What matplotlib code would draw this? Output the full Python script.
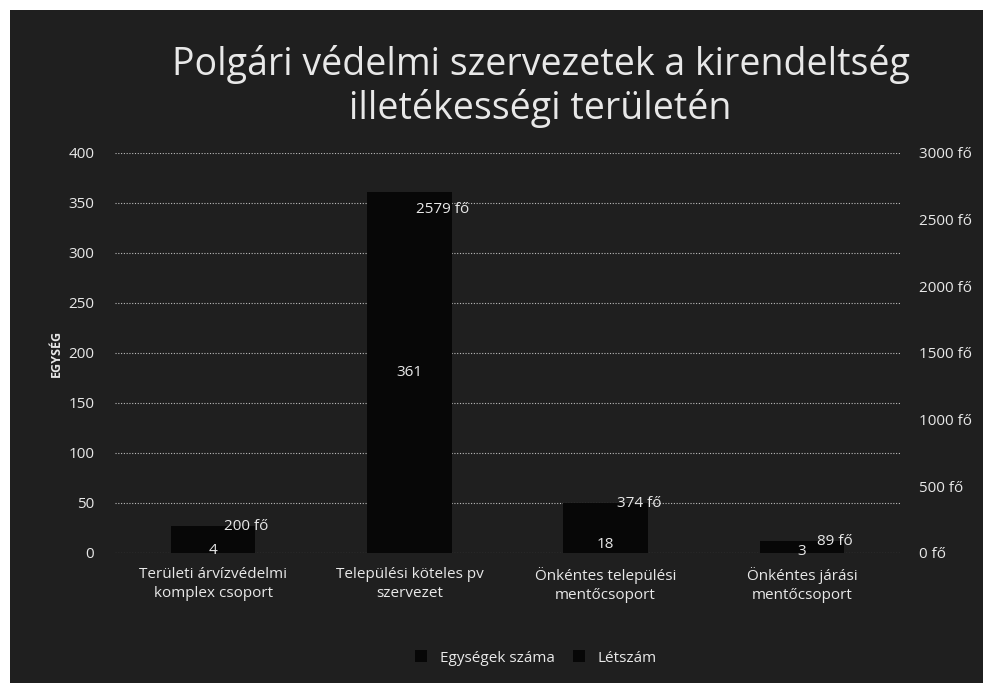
import matplotlib.pyplot as plt
from matplotlib.patches import Rectangle

categories = ["Területi árvízvédelmi\nkomplex csoport",
              "Települési köteles pv\nszervezet",
              "Önkéntes települési\nmentőcsoport",
              "Önkéntes járási\nmentőcsoport"]
egysegek = [4, 361, 18, 3]          # Egységek száma (left axis)
letszam = [200, 2579, 374, 89]      # Létszám (right axis, fő)
left_ticks = [0, 50, 100, 150, 200, 250, 300, 350, 400]
right_ticks = [0, 500, 1000, 1500, 2000, 2500, 3000]

bg = "#1f1f1f"
bar_col = "#070707"
txt = "#e8e8e8"
plt.rcParams['font.family'] = ['Open Sans', 'DejaVu Sans']

fig = plt.figure(figsize=(9.83, 6.83), dpi=100, facecolor="white")
# dark scanned chart area (thin white margin top/left)
fig.patches.append(Rectangle((10 / 983, 0), 1, 1 - 10 / 683, transform=fig.transFigure,
                             facecolor=bg, edgecolor="none", zorder=-10))

ax = fig.add_axes([115 / 983, 1 - 553 / 683, 785 / 983, 400 / 683])
ax.set_facecolor("none")
ax2 = ax.twinx()

x = list(range(len(categories)))
w = 0.43
ax.bar(x, egysegek, width=w, color=bar_col, zorder=2, label="Egységek száma")
ax2.bar(x, letszam, width=w, color=bar_col, zorder=2, label="Létszám")

ax.set_ylim(0, 400)
ax2.set_ylim(0, 3000)
ax.set_xlim(-0.5, len(categories) - 0.5)
ax.set_yticks(left_ticks)
ax2.set_yticks(right_ticks)
ax2.set_yticklabels([f"{t} fő" for t in right_ticks])
ax.set_xticks(x)
ax.set_xticklabels(categories, color=txt, fontsize=11, linespacing=1.35)

ax.grid(axis="y", color="#bdbdbd", linestyle=(0, (1, 1.5)), linewidth=0.8, zorder=0)
ax.set_axisbelow(True)
for a in (ax, ax2):
    for s in a.spines.values():
        s.set_visible(False)
    a.tick_params(length=0, colors=txt, labelsize=11)
ax.tick_params(axis="y", pad=15)
ax2.tick_params(axis="y", pad=14)
ax.tick_params(axis="x", pad=10)

ax.set_ylabel("EGYSÉG", color=txt, fontsize=9, fontweight="bold", labelpad=4)

# value labels (drawn in the top axes so the bars do not hide them)
for i, v in enumerate(egysegek):
    ax2.text(i, v / 2, str(v), transform=ax.transData, color=txt, fontsize=11,
             ha="center", va="center", zorder=5)
for i, v in enumerate(letszam):
    ax2.text(i + 0.17, v, f"{v} fő", color=txt, fontsize=11, ha="center", va="center", zorder=5)

fig.text(0.55, 1 - 65 / 683, "Polgári védelmi szervezetek a kirendeltség",
         color=txt, fontsize=27, ha="center", va="center")
fig.text(0.55, 1 - 108 / 683, "illetékességi területén",
         color=txt, fontsize=27, ha="center", va="center")

h1, l1 = ax.get_legend_handles_labels()
h2, l2 = ax2.get_legend_handles_labels()
leg = fig.legend(h1 + h2, l1 + l2, loc="center", bbox_to_anchor=(0.545, 1 - 658 / 683),
                 ncol=2, frameon=False, fontsize=11, handlelength=0.8, handleheight=0.8,
                 columnspacing=1.2)
for t in leg.get_texts():
    t.set_color(txt)

fig.savefig("out.png", dpi=100, facecolor=fig.get_facecolor())
